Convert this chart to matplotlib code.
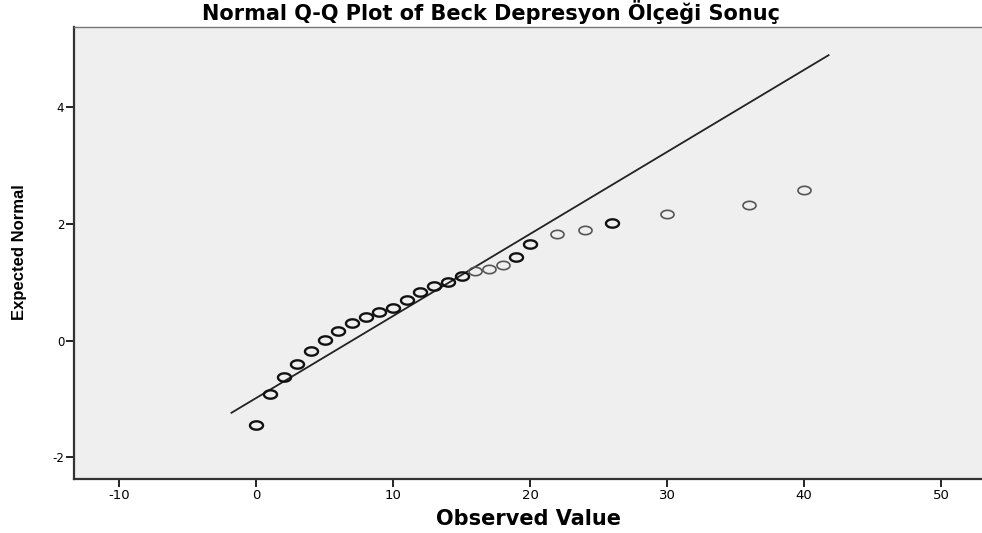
import matplotlib
matplotlib.use("Agg")
import matplotlib.pyplot as plt
import numpy as np
from matplotlib.path import Path

# ---- data ----
observed = [0, 1, 2, 3, 4, 5, 6, 7, 8, 9, 10, 11, 12, 13, 14, 15, 16, 17, 18, 19,
            20, 22, 24, 26, 30, 36, 40]
expected = [-1.45, -0.91, -0.63, -0.40, -0.18, 0.01, 0.17, 0.30, 0.41, 0.49, 0.56,
            0.69, 0.83, 0.93, 1.01, 1.11, 1.19, 1.22, 1.29, 1.43,
            1.65, 1.82, 1.89, 2.01, 2.17, 2.33, 2.58]
light_points = [16, 17, 18, 22, 24, 30, 36, 40]
ref_mean = 7.0
ref_sd = 7.12
ref_x_range = [-1.8, 41.8]
xticks = [-10, 0, 10, 20, 30, 40, 50]
yticks = [-2, 0, 2, 4]

fig = plt.figure(figsize=(9.82, 5.33), dpi=100)
ax = fig.add_axes([74/982, 1-479/533, 1-74/982, (479-27)/533])
ax.set_facecolor('#efefef')

# reference line
lx = np.array(ref_x_range)
ax.plot(lx, (lx - ref_mean) / ref_sd, color='#222222', lw=1.3, zorder=2)

# ellipse marker (SPSS-like hollow circles, stretched horizontally)
t = np.linspace(0, 2*np.pi, 40)
verts = np.column_stack([np.cos(t), 0.64*np.sin(t)])
ell = Path(verts, closed=True)

for xv, yv in zip(observed, expected):
    light = xv in light_points
    ax.plot([xv], [yv], linestyle='none', marker=ell, markersize=9.4,
            markerfacecolor='none',
            markeredgecolor='#555555' if light else '#111111',
            markeredgewidth=1.2 if light else 1.7, zorder=3)

ax.set_xlim(-13.3, 53.0)
ax.set_ylim(-2.37, 5.37)
ax.set_xticks(xticks)
ax.set_yticks(yticks)
ax.set_xticklabels([str(v) for v in xticks])
ax.set_yticklabels([str(v) for v in yticks])

for lab in ax.get_xticklabels():
    lab.set_fontfamily(['DejaVu Sans'])
    lab.set_fontsize(9.5)
for lab in ax.get_yticklabels():
    lab.set_fontfamily(['DejaVu Sans'])
    lab.set_fontsize(8.5)
ax.tick_params(axis='both', direction='out', length=6, width=1.4, color='#222222')
ax.tick_params(axis='x', pad=1.5)
ax.tick_params(axis='y', pad=1.0)

ax.spines['right'].set_visible(False)
ax.spines['top'].set_color('#777777')
ax.spines['top'].set_linewidth(1.0)
for s in ['left', 'bottom']:
    ax.spines[s].set_color('#333333')
    ax.spines[s].set_linewidth(1.6)

fig.text(0.5, 1-11.5/533, 'Normal Q-Q Plot of Beck Depresyon Ölçeği Sonuç',
         ha='center', va='center', fontsize=15, fontweight='bold',
         family=['DejaVu Sans'])
fig.text((74+982)/2/982, 1-519/533, 'Observed Value', ha='center', va='center',
         fontsize=15, fontweight='bold', family=['DejaVu Sans'])
fig.text(20/982, 1-(180+15/3+400/6)/533, 'Expected Normal', ha='center', va='center',
         rotation=90, fontsize=12, fontweight='bold',
         family=['Liberation Sans', 'DejaVu Sans'])

fig.savefig('out.png', dpi=100)
